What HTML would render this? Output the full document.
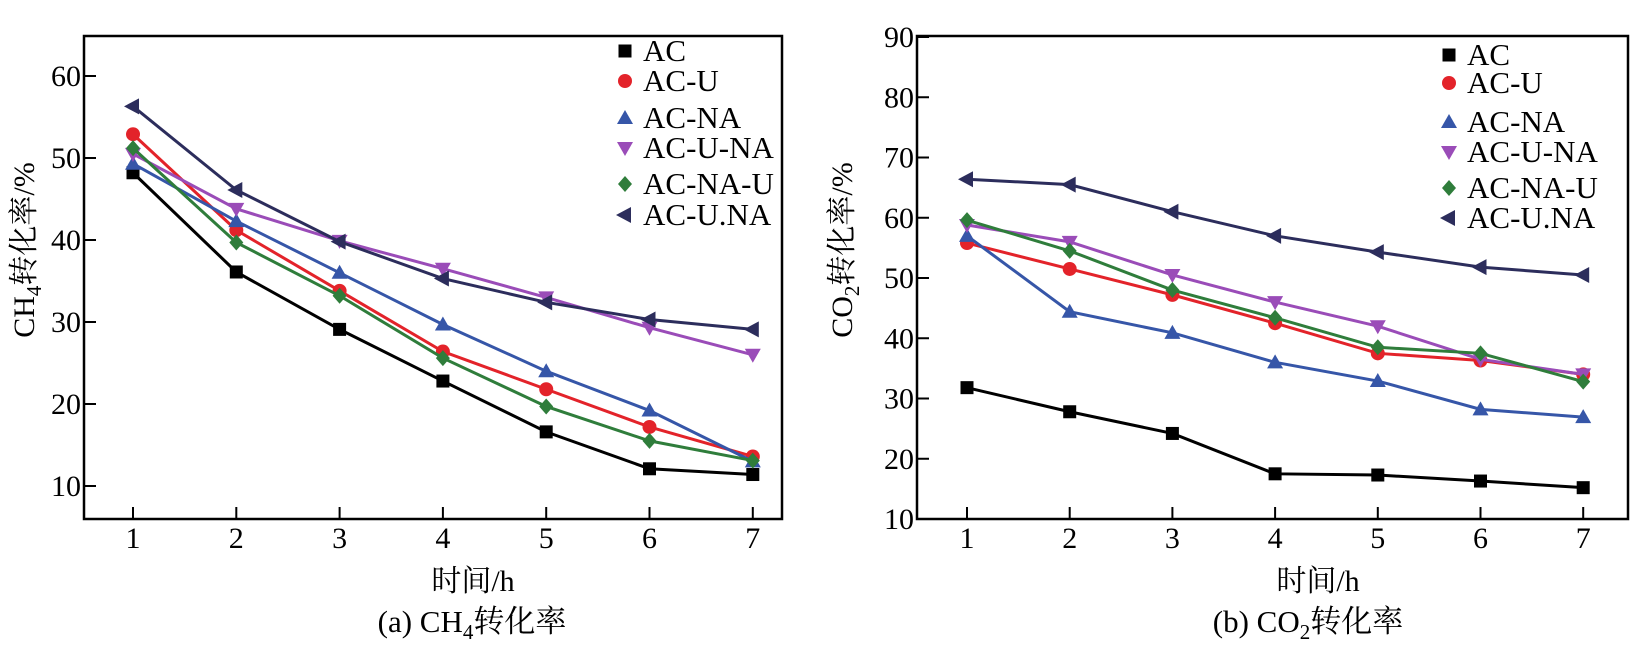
<!DOCTYPE html>
<html><head><meta charset="utf-8"><style>
html,body{margin:0;padding:0;background:#fff;}
svg{display:block;font-family:"Liberation Serif","Noto Serif CJK SC",serif;}
</style></head><body>
<svg id="s" width="1632" height="671" viewBox="0 0 1632 671"></svg>
<script>
const categories=[1,2,3,4,5,6,7];
const seriesNames=["AC","AC-U","AC-NA","AC-U-NA","AC-NA-U","AC-U.NA"];
const colors=["#000000","#e3232a","#3656a8","#9a4cb8","#2f7d3b","#2c2d5c"];
const markers=["square","circle","tri-up","tri-down","diamond","tri-left"];
const ch4AC=[48.2,36.1,29.1,22.8,16.6,12.1,11.4];
const ch4ACU=[52.9,41.2,33.8,26.4,21.8,17.2,13.6];
const ch4ACNA=[49.3,42.3,36.0,29.7,24.0,19.2,13.0];
const ch4ACUNA=[50.5,43.8,39.9,36.5,33.0,29.3,26.0];
const ch4ACNAU=[51.2,39.7,33.2,25.6,19.7,15.5,13.1];
const ch4ACUdotNA=[56.3,46.1,39.8,35.3,32.4,30.3,29.1];
const co2AC=[31.8,27.8,24.2,17.5,17.3,16.3,15.2];
const co2ACU=[55.8,51.5,47.2,42.5,37.5,36.3,34.0];
const co2ACNA=[57.0,44.4,40.9,36.0,32.9,28.2,26.9];
const co2ACUNA=[58.8,56.0,50.5,46.0,42.0,36.5,34.0];
const co2ACNAU=[59.6,54.5,48.0,43.4,38.5,37.5,32.8];
const co2ACUdotNA=[66.4,65.5,61.0,57.0,54.3,51.8,50.5];
const leftTicks=[10,20,30,40,50,60];
const rightTicks=[10,20,30,40,50,60,70,80,90];

const NS="http://www.w3.org/2000/svg";
const svg=document.getElementById('s');
function mk(tag,attrs,parent){const e=document.createElementNS(NS,tag);for(const k in attrs)e.setAttribute(k,attrs[k]);(parent||svg).appendChild(e);return e;}
function marker(g,type,x,y,c){
  let e;
  if(type==="square")e=mk('rect',{x:x-6.5,y:y-6.5,width:13,height:13,fill:c},g);
  else if(type==="circle")e=mk('circle',{cx:x,cy:y,r:7,fill:c},g);
  else if(type==="tri-up")e=mk('polygon',{points:`${x},${y-8} ${x+8},${y+6} ${x-8},${y+6}`,fill:c},g);
  else if(type==="tri-down")e=mk('polygon',{points:`${x},${y+8} ${x+8},${y-6} ${x-8},${y-6}`,fill:c},g);
  else if(type==="diamond")e=mk('polygon',{points:`${x},${y-8} ${x+7},${y} ${x},${y+8} ${x-7},${y}`,fill:c},g);
  else e=mk('polygon',{points:`${x-9},${y} ${x+6},${y-8} ${x+6},${y+8}`,fill:c},g);
  return e;
}
function chart(cfg){
  const g=mk('g',{});
  
  
  const X=v=>cfg.x1+(v-1)*cfg.xs;
  const Y=v=>cfg.y0-(v-cfg.v0)*cfg.ys;
  cfg.data.forEach((arr,i)=>{
    const sg=mk('g',{},g);
    
    
    const pts=arr.map((v,j)=>X(categories[j])+','+Y(v)).join(' ');
    const pl=mk('polyline',{points:pts,fill:'none',stroke:colors[i],'stroke-width':3},sg);
    
    
    arr.forEach((v,j)=>{const m=marker(sg,markers[i],X(categories[j]),Y(v),colors[i]);
      
      });
  });
  const fr=mk('rect',{x:cfg.L,y:cfg.T,width:cfg.R-cfg.L,height:cfg.B-cfg.T,fill:'none',stroke:'#000','stroke-width':2.5},g);
  
  
  cfg.ticks.forEach(t=>{
    mk('line',{x1:cfg.L,x2:cfg.L+12,y1:Y(t),y2:Y(t),stroke:'#000','stroke-width':2},g);
    const tx=mk('text',{x:cfg.L-3,y:Y(t)+10,'text-anchor':'end','font-size':30},g);
    tx.textContent=t;
    
    
  });
  categories.forEach(c=>{
    mk('line',{x1:X(c),x2:X(c),y1:cfg.B,y2:cfg.B-12,stroke:'#000','stroke-width':2},g);
    const tx=mk('text',{x:X(c),y:548,'text-anchor':'middle','font-size':30},g);
    tx.textContent=c;
    
    
  });
  cfg.legY.forEach((ly,i)=>{
    const lg=mk('g',{},g);
    
    
    marker(lg,markers[i],cfg.legMx,ly-10,colors[i]);
    const tx=mk('text',{x:cfg.legTx,y:ly,'font-size':31},lg);
    tx.textContent=seriesNames[i];
  });
  const xt=mk('text',{x:cfg.xtX,y:591,'text-anchor':'middle','font-size':30},g);
  xt.textContent='时间/h';
  
  
  const cap=mk('text',{x:cfg.capX,y:632,'text-anchor':'middle','font-size':31},g);
  cap.innerHTML=cfg.cap;
  
  
  const yt=mk('text',{transform:`translate(${cfg.ytX},${cfg.ytY}) rotate(-90)`,'text-anchor':'middle','font-size':30},g);
  yt.innerHTML=cfg.yt;
  
  
}
chart({name:'ch4-chart',L:84,R:782,T:36,B:519,x1:133,xs:103.3,y0:486,v0:10,ys:8.2,ticks:leftTicks,
  data:[ch4AC,ch4ACU,ch4ACNA,ch4ACUNA,ch4ACNAU,ch4ACUdotNA],
  legY:[61,91,128,158,194,225],legMx:625,legTx:643,xtX:473,capX:472,
  cap:'(a) CH<tspan font-size="21" dy="7">4</tspan><tspan dy="-7">转化率</tspan>',
  ytX:34,ytY:250,yt:'CH<tspan font-size="21" dy="7">4</tspan><tspan dy="-7">转化率/%</tspan>'});
chart({name:'co2-chart',L:917,R:1628,T:36,B:519,x1:967,xs:102.7,y0:519,v0:10,ys:6.025,ticks:rightTicks,
  data:[co2AC,co2ACU,co2ACNA,co2ACUNA,co2ACNAU,co2ACUdotNA],
  legY:[65,93,132,162,198,228],legMx:1449,legTx:1467,xtX:1318,capX:1308,
  cap:'(b) CO<tspan font-size="21" dy="7">2</tspan><tspan dy="-7">转化率</tspan>',
  ytX:852,ytY:250,yt:'CO<tspan font-size="21" dy="7">2</tspan><tspan dy="-7">转化率/%</tspan>'});
</script>
</body></html>
